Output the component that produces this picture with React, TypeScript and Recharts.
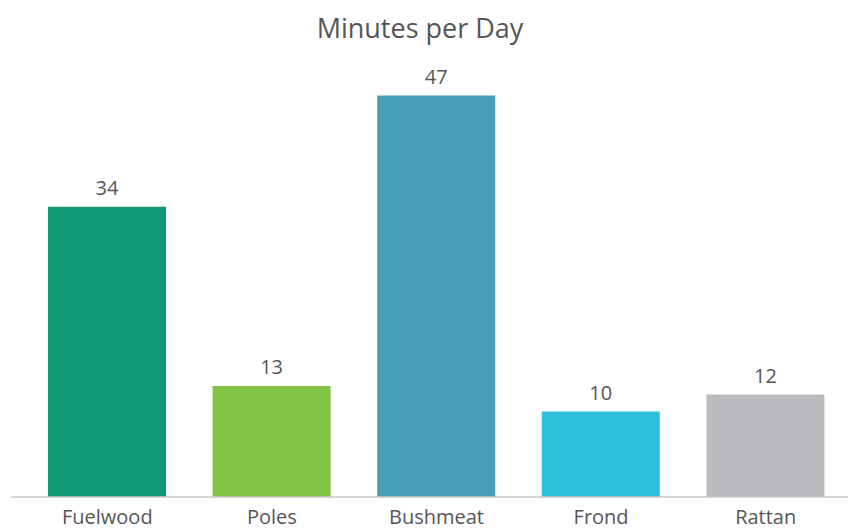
import React from "react";
import { BarChart, Bar, XAxis, YAxis, Cell, LabelList } from "recharts";

const categories = ["Fuelwood", "Poles", "Bushmeat", "Frond", "Rattan"];
const minutes = [34, 13, 47, 10, 12];
const barColors = ["#109a74", "#84c444", "#489db7", "#2ec0da", "#bbbcbf"];

const data = categories.map((name, i) => ({ name, value: minutes[i] }));

const FONT = "'Open Sans', 'Noto Sans', sans-serif";

const App: React.FC = () => {
  return (
    <div
      style={{
        position: "absolute",
        left: 0,
        top: 0,
        width: 848,
        height: 529,
        background: "#fff",
        fontFamily: FONT,
        overflow: "hidden",
      }}
    >
      <div
        style={{
          position: "absolute",
          top: 9,
          left: 0,
          width: 840,
          textAlign: "center",
          fontSize: 27,
          color: "#555",
        }}
      >
        Minutes per Day
      </div>
      <BarChart
        width={848}
        height={529}
        data={data}
        margin={{ top: 70, right: 0, left: 11, bottom: 0 }}
      >
        <XAxis
          dataKey="name"
          height={32}
          padding={{ left: 14, right: 0 }}
          tickLine={false}
          tickSize={0}
          tickMargin={13}
          axisLine={{ stroke: "#c8c8c8", strokeWidth: 1.5 }}
          tick={{ fill: "#555", fontSize: 20, fontFamily: FONT }}
          interval={0}
        />
        <YAxis hide domain={[0, 50]} />
        <Bar dataKey="value" barSize={118} isAnimationActive={false}>
          {data.map((d, i) => (
            <Cell key={d.name} fill={barColors[i]} />
          ))}
          <LabelList
            dataKey="value"
            position="top"
            offset={12}
            style={{ fill: "#555", fontSize: 20, fontFamily: FONT }}
          />
        </Bar>
      </BarChart>
    </div>
  );
};

export default App;
